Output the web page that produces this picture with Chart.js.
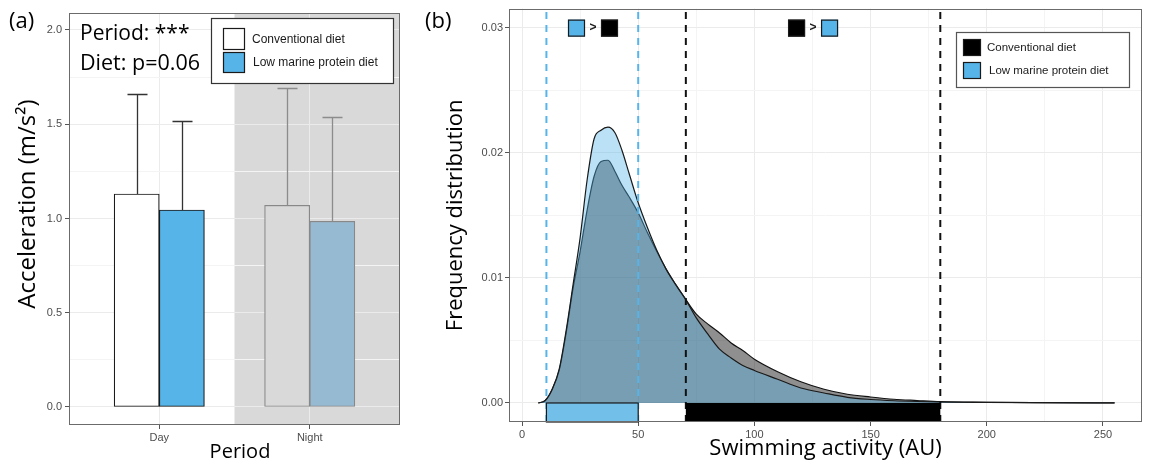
<!DOCTYPE html>
<html>
<head>
<meta charset="utf-8">
<script src="https://cdn.jsdelivr.net/npm/chart.js@4.4.1/dist/chart.umd.min.js"></script>
<style>
  html, body { margin: 0; padding: 0; background: #fff; }
  #wrapA { position: absolute; left: 0; top: 0; width: 420px; height: 466px; }
  #wrapB { position: absolute; left: 420px; top: 0; width: 729px; height: 466px; }
</style>
</head>
<body>
<div id="wrapA"><canvas id="chartA"></canvas></div>
<div id="wrapB"><canvas id="chartB"></canvas></div>
<script>
// Panel (a): mean acceleration with upper error bar
const periods = ['Day', 'Night'];
const convMean = [1.13, 1.07];
const convUpper = [1.66, 1.69];
const lowMean = [1.045, 0.985];
const lowUpper = [1.515, 1.54];
const accelTicks = [0, 0.25, 0.5, 0.75, 1, 1.25, 1.5, 1.75, 2];

// Panel (b): density of swimming activity
const activity = [7, 10, 13, 16, 19, 22, 25, 28, 31, 34, 37, 40, 43, 46, 50, 54, 58, 62, 66, 70,
                  75, 80, 85, 90, 95, 100, 110, 120, 130, 140, 150, 160, 170, 180, 200, 220, 255];
const convDensity = [0, 0.0002, 0.0011, 0.0026, 0.0056, 0.0092, 0.0121, 0.0154, 0.0181, 0.0193, 0.0194, 0.0185, 0.0174, 0.0165, 0.0152, 0.0136, 0.0121, 0.0107, 0.0095, 0.0084,
                     0.0071, 0.0063, 0.0056, 0.0048, 0.0042, 0.0035, 0.0025, 0.0017, 0.0011, 0.0007, 0.00048, 0.0003, 0.0002, 0.00011, 0.00006, 0.00003, 0.00001];
const lowDensity = [0, 0.0002, 0.0011, 0.0027, 0.0058, 0.0095, 0.0132, 0.0178, 0.0211, 0.0218, 0.02205, 0.0216, 0.0202, 0.0184, 0.0160, 0.0140, 0.0122, 0.0107, 0.0095, 0.0084,
                    0.0068, 0.0055, 0.0043, 0.0036, 0.0030, 0.0026, 0.0019, 0.0012, 0.0008, 0.00045, 0.00028, 0.00018, 0.00012, 0.00008, 0.00005, 0.00003, 0.00001];
const activityTicks = [0, 25, 50, 75, 100, 125, 150, 175, 200, 225, 250];
const densityTicks = [0, 0.005, 0.01, 0.015, 0.02, 0.025, 0.03];
const lowBand = [10.5, 50];    // low marine protein > conventional
const convBand = [70.5, 180];  // conventional > low marine protein

const BLUE = '#56b4e9';
const dodge = 0.15;
const tickFont = { family: 'Liberation Sans', size: 11 };

const isStep = (v, step) => Math.abs(v / step - Math.round(v / step)) < 1e-6;
const gridColor = step => ctx => (ctx.tick && isStep(ctx.tick.value, step)) ? '#ebebeb' : '#f4f4f4';
const tickColor = step => ctx => (ctx.tick && isStep(ctx.tick.value, step)) ? '#555' : 'rgba(0,0,0,0)';

function drawBorder(ctx, a) {
  ctx.save();
  ctx.strokeStyle = '#6b6b6b';
  ctx.lineWidth = 1;
  ctx.strokeRect(Math.round(a.left) + 0.5, Math.round(a.top) + 0.5,
                 Math.round(a.right - a.left) - 1, Math.round(a.bottom - a.top) - 1);
  ctx.restore();
}

function drawKey(ctx, x, y, w, h, fill) {
  ctx.fillStyle = fill;
  ctx.fillRect(x, y, w, h);
  ctx.strokeStyle = '#1a1a1a';
  ctx.lineWidth = 1.2;
  ctx.strokeRect(x + 0.5, y + 0.5, w - 1, h - 1);
}

// ---------- panel (a) ----------
const panelA = {
  id: 'panelA',
  beforeDraw(chart) {
    const { ctx, chartArea: a, scales: { x } } = chart;
    const x0 = x.getPixelForValue(1.5);
    ctx.save();
    ctx.fillStyle = '#d9d9d9';
    ctx.fillRect(x0, a.top, a.right - x0, a.bottom - a.top);
    ctx.restore();
  },
  afterDatasetsDraw(chart) {
    const { ctx, scales: { x, y } } = chart;
    const groups = [[convMean, convUpper, -dodge], [lowMean, lowUpper, dodge]];
    ctx.save();
    ctx.lineWidth = 1.3;
    groups.forEach(([mean, upper, off]) => {
      periods.forEach((p, i) => {
        const px = Math.round(x.getPixelForValue(i + 1 + off)) + 0.5;
        const y0 = y.getPixelForValue(mean[i]);
        const y1 = Math.round(y.getPixelForValue(upper[i])) + 0.5;
        ctx.strokeStyle = i === 0 ? '#333' : '#8c8c8c';
        ctx.beginPath();
        ctx.moveTo(px, y0); ctx.lineTo(px, y1);
        ctx.moveTo(px - 10, y1); ctx.lineTo(px + 10, y1);
        ctx.stroke();
      });
    });
    ctx.restore();
  },
  afterDraw(chart) {
    const { ctx, chartArea: a } = chart;
    drawBorder(ctx, a);
    ctx.save();
    ctx.fillStyle = '#000';
    ctx.textBaseline = 'alphabetic';
    ctx.font = '21px "Open Sans"';
    ctx.fillText('Period: ***', 80, 40);
    ctx.font = '21.5px "Open Sans"';
    ctx.fillText('Diet: p=0.06', 80, 70);
    ctx.font = '22px "Open Sans"';
    ctx.textBaseline = 'middle';
    ctx.fillText('(a)', 9, 22);

    // axis titles (placed like the original figure, slightly off-centre)
    ctx.textAlign = 'center';
    ctx.font = '20px "Open Sans"';
    ctx.fillText('Period', 240, 452);
    ctx.translate(28, 204);
    ctx.rotate(-Math.PI / 2);
    ctx.font = '24px "Open Sans"';
    ctx.fillText('Acceleration (m/s²)', 0, 0);
    ctx.setTransform(1, 0, 0, 1, 0, 0);
    ctx.textAlign = 'left';

    // legend
    ctx.fillStyle = '#fff';
    ctx.fillRect(211, 18, 182, 65);
    ctx.strokeStyle = '#333';
    ctx.lineWidth = 1.2;
    ctx.strokeRect(211.5, 18.5, 182, 65);
    const ds = chart.data.datasets;
    drawKey(ctx, 223, 28, 22, 22, '#ffffff');
    drawKey(ctx, 223, 52, 22, 21, BLUE);
    ctx.fillStyle = '#1a1a1a';
    ctx.font = '12px "Liberation Sans"';
    ctx.fillText(ds[0].label, 252, 40);
    ctx.fillText(ds[1].label, 253, 63);
    ctx.restore();
  }
};

new Chart(document.getElementById('chartA'), {
  type: 'bar',
  data: {
    datasets: [
      {
        label: 'Conventional diet',
        data: periods.map((p, i) => ({ x: i + 1 - dodge, y: convMean[i] })),
        backgroundColor: ['#ffffff', '#d9d9d9'],
        borderColor: ['#1a1a1a', '#888888'],
        borderWidth: 1.2,
        borderSkipped: false,
        grouped: false,
        categoryPercentage: 1,
        barPercentage: 1
      },
      {
        label: 'Low marine protein diet',
        data: periods.map((p, i) => ({ x: i + 1 + dodge, y: lowMean[i] })),
        backgroundColor: [BLUE, '#95bad2'],
        borderColor: ['#1a1a1a', '#888888'],
        borderWidth: 1.2,
        borderSkipped: false,
        grouped: false,
        categoryPercentage: 1,
        barPercentage: 1
      }
    ]
  },
  options: {
    responsive: true,
    maintainAspectRatio: false,
    animation: false,
    layout: { padding: { left: 0, right: 20, top: 13, bottom: 0 } },
    plugins: { legend: { display: false }, tooltip: { enabled: false } },
    scales: {
      x: {
        type: 'linear',
        min: 0.4,
        max: 2.6,
        offset: false,
        afterBuildTicks: s => { s.ticks = periods.map((p, i) => ({ value: i + 1 })); },
        afterFit: s => { s.height = 41; },
        ticks: {
          autoSkip: false, maxRotation: 0, padding: 2,
          color: '#4d4d4d', font: tickFont,
          callback: v => periods[Math.round(v) - 1]
        },
        grid: { offset: false, color: '#ebebeb', tickColor: '#555', tickLength: 4 },
        border: { display: false }
      },
      y: {
        min: -0.0955,
        max: 2.09,
        afterBuildTicks: s => { s.ticks = accelTicks.map(v => ({ value: v })); },
        afterFit: s => { s.width = 69; },
        ticks: {
          autoSkip: false, padding: 3,
          color: '#4d4d4d', font: tickFont,
          callback: v => isStep(v, 0.5) ? v.toFixed(1) : ''
        },
        grid: { color: gridColor(0.5), tickColor: tickColor(0.5), tickLength: 4 },
        border: { display: false }
      }
    }
  },
  plugins: [panelA]
});

// ---------- panel (b) ----------
const panelB = {
  id: 'panelB',
  afterDatasetsDraw(chart) {
    const { ctx, chartArea: a, scales: { x, y } } = chart;
    const y0 = y.getPixelForValue(0);
    ctx.save();
    // significance bands under the zero line
    const xl0 = x.getPixelForValue(lowBand[0]), xl1 = x.getPixelForValue(lowBand[1]);
    ctx.fillStyle = '#72bfea';
    ctx.fillRect(xl0, y0, xl1 - xl0, a.bottom - y0);
    ctx.strokeStyle = '#1a1a1a';
    ctx.lineWidth = 1.2;
    ctx.strokeRect(xl0, y0, xl1 - xl0, a.bottom - y0);
    const xc0 = x.getPixelForValue(convBand[0]), xc1 = x.getPixelForValue(convBand[1]);
    ctx.fillStyle = '#000';
    ctx.fillRect(xc0, y0, xc1 - xc0, a.bottom - y0);

    // "A > B" markers above each band
    const yTop = y.getPixelForValue(0.03);
    const marks = [
      [(lowBand[0] + lowBand[1]) / 2 + 0.3, BLUE, '#000'],
      [(convBand[0] + convBand[1]) / 2, '#000', BLUE]
    ];
    marks.forEach(([v, left, right]) => {
      const cx = x.getPixelForValue(v);
      drawKey(ctx, cx - 25, yTop - 8, 17, 17, left);
      drawKey(ctx, cx + 8, yTop - 8, 17, 17, right);
      ctx.fillStyle = '#1a1a1a';
      ctx.font = 'bold 12px "Liberation Sans"';
      ctx.textAlign = 'center';
      ctx.textBaseline = 'middle';
      ctx.fillText('>', cx, yTop);
    });
    ctx.restore();
  },
  afterDraw(chart) {
    const { ctx, chartArea: a } = chart;
    drawBorder(ctx, a);
    ctx.save();
    ctx.fillStyle = '#000';
    ctx.font = '22px "Open Sans"';
    ctx.textBaseline = 'middle';
    ctx.fillText('(b)', 5, 22);

    // legend
    ctx.fillStyle = '#fff';
    ctx.fillRect(536, 32, 173, 55);
    ctx.strokeStyle = '#555';
    ctx.lineWidth = 1.2;
    ctx.strokeRect(536.5, 32.5, 173, 55);
    const ds = chart.data.datasets;
    drawKey(ctx, 543, 39, 18, 17, '#000');
    drawKey(ctx, 543, 62, 18, 17, BLUE);
    ctx.fillStyle = '#1a1a1a';
    ctx.font = '11.5px "Liberation Sans"';
    ctx.fillText(ds[0].label, 567, 48);
    ctx.fillText(ds[1].label, 569, 71);
    ctx.restore();
  }
};

const yMinB = -0.00152, yMaxB = 0.03152;
const cutLine = (v, color) => ({
  label: 'cut',
  data: [{ x: v, y: yMinB }, { x: v, y: yMaxB }],
  borderColor: color,
  borderWidth: 2,
  borderDash: [7, 6],
  pointRadius: 0,
  fill: false,
  order: 1
});

new Chart(document.getElementById('chartB'), {
  type: 'line',
  data: {
    datasets: [
      {
        label: 'Conventional diet',
        data: activity.map((v, i) => ({ x: v, y: convDensity[i] })),
        fill: 'origin',
        backgroundColor: 'rgba(0,0,0,0.44)',
        borderColor: '#111',
        borderWidth: 1.2,
        pointRadius: 0,
        cubicInterpolationMode: 'monotone',
        order: 3
      },
      {
        label: 'Low marine protein diet',
        data: activity.map((v, i) => ({ x: v, y: lowDensity[i] })),
        fill: 'origin',
        backgroundColor: 'rgba(86,180,233,0.4)',
        borderColor: '#1a1a1a',
        borderWidth: 1.2,
        pointRadius: 0,
        cubicInterpolationMode: 'monotone',
        order: 2
      },
      cutLine(lowBand[0], BLUE),
      cutLine(lowBand[1], BLUE),
      cutLine(convBand[0], '#111'),
      cutLine(convBand[1], '#111')
    ]
  },
  options: {
    responsive: true,
    maintainAspectRatio: false,
    animation: false,
    layout: { padding: { left: 0, right: 7, top: 8, bottom: 0 } },
    plugins: { legend: { display: false }, tooltip: { enabled: false } },
    scales: {
      x: {
        type: 'linear',
        min: -5.6,
        max: 266.8,
        afterBuildTicks: s => { s.ticks = activityTicks.map(v => ({ value: v })); },
        afterFit: s => { s.height = 44; },
        ticks: {
          autoSkip: false, maxRotation: 0, padding: 2,
          color: '#4d4d4d', font: tickFont,
          callback: v => isStep(v, 50) ? String(v) : ''
        },
        grid: { color: gridColor(50), tickColor: tickColor(50), tickLength: 4 },
        border: { display: false },
        title: { display: true, text: 'Swimming activity (AU)', color: '#000', font: { family: 'Open Sans', size: 22 }, padding: { top: 0, bottom: 4 } }
      },
      y: {
        min: yMinB,
        max: yMaxB,
        afterBuildTicks: s => { s.ticks = densityTicks.map(v => ({ value: v })); },
        afterFit: s => { s.width = 89; },
        ticks: {
          autoSkip: false, padding: 2,
          color: '#4d4d4d', font: tickFont,
          callback: v => isStep(v, 0.01) ? v.toFixed(2) : ''
        },
        grid: { color: gridColor(0.01), tickColor: tickColor(0.01), tickLength: 4 },
        border: { display: false },
        title: { display: true, text: 'Frequency distribution', color: '#000', font: { family: 'Open Sans', size: 22 }, padding: { top: 23, bottom: 0 } }
      }
    }
  },
  plugins: [panelB]
});
</script>
</body>
</html>
